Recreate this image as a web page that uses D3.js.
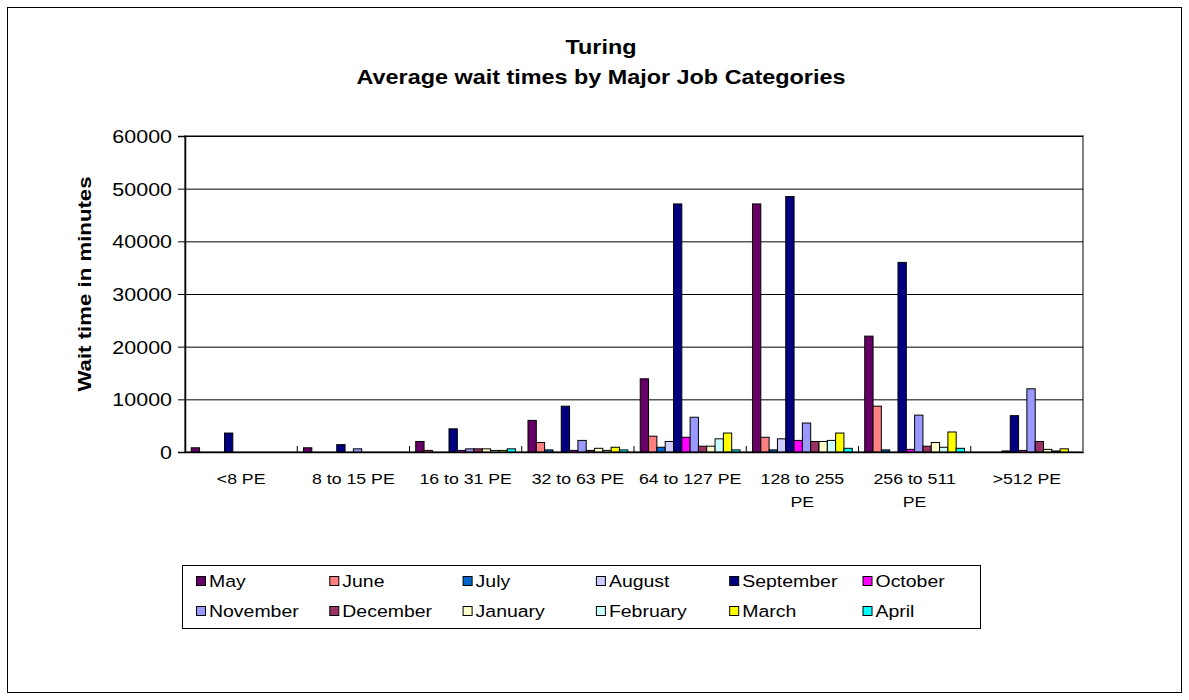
<!DOCTYPE html>
<html>
<head>
<meta charset="utf-8">
<script src="https://cdn.jsdelivr.net/npm/d3@7"></script>
<style>
  html, body { margin: 0; padding: 0; background: #fff; }
  svg { display: block; }
  text { font-family: "Liberation Sans", Arial, sans-serif; fill: #000; }
</style>
</head>
<body>
<svg id="chart" width="1189" height="700"></svg>
<script>
// ---------- data ----------
const categories = ["<8 PE", "8 to 15 PE", "16 to 31 PE", "32 to 63 PE", "64 to 127 PE", "128 to 255 PE", "256 to 511 PE", ">512 PE"];
const months = ["May", "June", "July", "August", "September", "October", "November", "December", "January", "February", "March", "April"];

const may       = [800, 800, 2000, 6000, 13900, 47100, 22000, 0];
const june      = [0, 0, 300, 1800, 3000, 2800, 8700, 0];
const july      = [0, 0, 0, 400, 900, 400, 400, 0];
const august    = [0, 0, 0, 0, 2000, 2500, 0, 200];
const september = [3600, 1400, 4400, 8700, 47100, 48500, 36000, 6900];
const october   = [0, 0, 300, 300, 2800, 2200, 500, 300];
const november  = [0, 600, 600, 2200, 6600, 5500, 7000, 12000];
const december  = [0, 0, 600, 300, 1100, 2000, 1100, 2000];
const january   = [0, 0, 600, 700, 1100, 2000, 1800, 500];
const february  = [0, 0, 300, 300, 2500, 2200, 900, 200];
const march     = [0, 0, 300, 900, 3600, 3600, 3800, 600];
const april     = [0, 0, 600, 400, 400, 700, 700, 0];

const yTicks = [0, 10000, 20000, 30000, 40000, 50000, 60000];
const titleLines = ["Turing", "Average wait times by Major Job Categories"];
const yTitle = "Wait time in minutes";

const seriesValues = [may, june, july, august, september, october, november, december, january, february, march, april];
const colors = ["#660066", "#FF8080", "#0066CC", "#CCCCFF", "#000080", "#FF00FF",
                "#9999FF", "#993366", "#FFFFCC", "#CCFFFF", "#FFFF00", "#00FFFF"];

// ---------- layout ----------
const svg = d3.select("#chart");
const L = 185, R = 1083, T = 136, B = 452;
const SX = 1.18; // horizontal text stretch

function placeText(sel, x, y, sx) {
  sel.attr("x", 0).attr("y", 0)
     .attr("transform", `translate(${x},${y}) scale(${sx},1)`);
}

// outer frame
svg.append("rect").attr("x", 7.5).attr("y", 7.5).attr("width", 1174).attr("height", 685)
  .attr("fill", "#fff").attr("stroke", "#000").attr("stroke-width", 1);

// title
titleLines.forEach((t, i) => {
  svg.append("text").text(t)
    .attr("text-anchor", "middle")
    .style("font-size", "19.5px").style("font-weight", "bold")
    .call(placeText, 601, i === 0 ? 54 : 84, 1.2);
});

// scales
const x0 = d3.scaleBand().domain(categories).range([L, R]).paddingInner(0).paddingOuter(0);
const x1 = d3.scaleBand().domain(months).range([0, x0.bandwidth()]).paddingInner(0).paddingOuter(0.75);
const y = d3.scaleLinear().domain([0, 60000]).range([B, T]);

// plot area border (gray)
svg.append("rect").attr("x", L).attr("y", T).attr("width", R - L).attr("height", B - T)
  .attr("fill", "none").attr("stroke", "#808080").attr("stroke-width", 2);

// gridlines
svg.append("g").attr("transform", `translate(${L},0)`)
  .call(d3.axisLeft(y).tickValues(yTicks.filter(d => d > 0)).tickSize(-(R - L)).tickFormat(""))
  .call(g => g.select(".domain").remove())
  .call(g => g.selectAll("line").attr("stroke", "#000").attr("stroke-width", 1));

// bars
const groups = svg.append("g").selectAll("g")
  .data(categories).join("g")
  .attr("transform", d => `translate(${x0(d)},0)`);

groups.selectAll("rect")
  .data((c, ci) => months.map((m, mi) => ({ m, mi, v: seriesValues[mi][ci] })).filter(d => d.v > 0))
  .join("rect")
  .attr("x", d => x1(d.m))
  .attr("width", x1.bandwidth())
  .attr("y", d => y(d.v))
  .attr("height", d => B - y(d.v))
  .attr("fill", d => colors[d.mi])
  .attr("stroke", "#000").attr("stroke-width", 1);

// y axis
const yAxis = svg.append("g").attr("transform", `translate(${L},0)`)
  .call(d3.axisLeft(y).tickValues(yTicks).tickSize(7).tickPadding(9).tickFormat(d3.format("d")));
yAxis.select(".domain").attr("stroke", "#000").attr("stroke-width", 1.5);
yAxis.selectAll("line").attr("stroke", "#000");
yAxis.selectAll("text")
  .style("font-size", "18.5px").style("font-family", "'Liberation Sans', Arial, sans-serif")
  .attr("fill", "#000")
  .each(function() {
    const t = d3.select(this);
    t.attr("transform", `translate(-13,0) scale(1.16,1)`).attr("x", 0).attr("dy", "0.35em");
  });

// x axis
const xAxis = svg.append("g").attr("transform", `translate(0,${B})`)
  .call(d3.axisBottom(x0).tickSize(0).tickPadding(0));
xAxis.select(".domain").attr("stroke", "#000").attr("stroke-width", 1.5);
// category separator ticks (inside)
svg.append("g").selectAll("line")
  .data(categories.slice(1).map(c => x0(c)))
  .join("line")
  .attr("x1", d => d).attr("x2", d => d)
  .attr("y1", B - 6).attr("y2", B)
  .attr("stroke", "#000");

const maxLabelW = 106;
xAxis.selectAll(".tick text").each(function(d) {
  const t = d3.select(this);
  t.text(null).attr("y", 0).attr("dy", null)
    .style("font-size", "15px").style("font-family", "'Liberation Sans', Arial, sans-serif")
    .attr("fill", "#000")
    .attr("transform", `scale(${SX},1)`);
  const words = d.split(" ");
  let lines = [], line = [];
  const probe = t.append("tspan");
  words.forEach(w => {
    line.push(w);
    probe.text(line.join(" "));
    if (probe.node().getComputedTextLength() * SX > maxLabelW && line.length > 1) {
      line.pop();
      lines.push(line.join(" "));
      line = [w];
    }
  });
  lines.push(line.join(" "));
  probe.remove();
  lines.forEach((ln, i) => {
    t.append("tspan").attr("x", 0).attr("y", 32 + i * 23).text(ln);
  });
});

// y axis title
svg.append("text").text(yTitle)
  .attr("text-anchor", "middle")
  .style("font-size", "19px").style("font-weight", "bold")
  .attr("transform", `translate(91,284) rotate(-90) scale(1.17,1)`);

// legend
svg.append("rect").attr("x", 182.5).attr("y", 565.5).attr("width", 798).attr("height", 63)
  .attr("fill", "#fff").attr("stroke", "#000").attr("stroke-width", 1);

const legendItems = svg.append("g").selectAll("g")
  .data(months).join("g")
  .attr("transform", (d, i) => `translate(${196 + (i % 6) * 133.3},${i < 6 ? 581 : 611})`);
legendItems.append("rect")
  .attr("x", 0.5).attr("y", -4.5).attr("width", 9).attr("height", 9)
  .attr("fill", (d, i) => colors[i]).attr("stroke", "#000");
legendItems.append("text").text(d => d)
  .style("font-size", "16.5px")
  .attr("transform", `translate(13,6) scale(${SX},1)`);
</script>
</body>
</html>
